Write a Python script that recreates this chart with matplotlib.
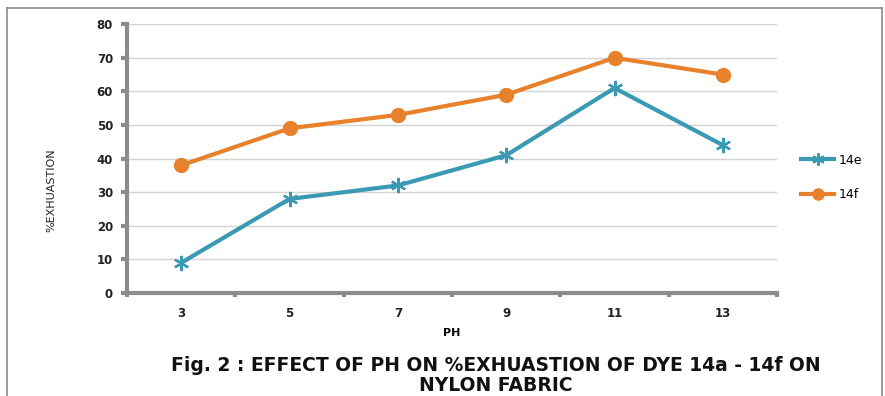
import numpy as np
import matplotlib.pyplot as plt
from matplotlib.lines import Line2D

plt.rcParams['font.family'] = ['DejaVu Sans']

ph_labels = ['3', '5', '7', '9', '11', '13']
dye_14e = [9, 28, 32, 41, 61, 44]
dye_14f = [38, 49, 53, 59, 70, 65]
y_ticks = [0, 10, 20, 30, 40, 50, 60, 70, 80]

blue = '#3A9AB3'
orange = '#E8812C'
axis_grey = '#8C8C8C'

fig = plt.figure(figsize=(8.85, 3.96), dpi=100)
ax = fig.add_axes([0.1435, 0.26, 0.7345, 0.679])

x = np.arange(len(ph_labels))
ax.plot(x, dye_14e, color=blue, lw=3, marker=(6, 2, 0), ms=11, mew=1.6,
        mec=blue, label='14e', zorder=3)
ax.plot(x, dye_14f, color=orange, lw=3, marker='o', ms=10, mec=orange,
        label='14f', zorder=3)

ax.set_xlim(-0.5, len(ph_labels) - 0.5)
ax.set_ylim(0, 80)
ax.set_yticks(y_ticks)
ax.set_xticks(x)
ax.set_xticklabels(ph_labels)
ax.set_xticks(np.arange(-0.5, len(ph_labels), 1), minor=True)
ax.yaxis.grid(True, color='#D4D4D4', lw=1)
ax.set_axisbelow(True)

for s in ['top', 'right']:
    ax.spines[s].set_visible(False)
for s in ['left', 'bottom']:
    ax.spines[s].set_color(axis_grey)
    ax.spines[s].set_linewidth(3)
ax.tick_params(axis='y', length=4, width=3, color=axis_grey, pad=6,
               labelsize=8.5)
ax.tick_params(axis='x', which='major', length=0, pad=10, labelsize=8.5)
ax.tick_params(axis='x', which='minor', length=3, width=3, color=axis_grey)
for lab in ax.get_xticklabels() + ax.get_yticklabels():
    lab.set_fontweight('bold')
    lab.set_color('#222222')

ax.set_xlabel('PH', fontsize=8, fontweight='bold', labelpad=6)
fig.text(0.058, 0.52, '%EXHUASTION', rotation=90, ha='center', va='center',
         fontsize=8, family=['Liberation Sans Narrow', 'DejaVu Sans'],
         color='#222222')

ax.legend(loc='center left', bbox_to_anchor=(1.02, 0.43), frameon=False,
          fontsize=9, handlelength=2.6, labelspacing=1.7, handletextpad=0.4,
          markerscale=0.8)

fig.text(0.5605, 0.052, 'Fig. 2 : EFFECT OF PH ON %EXHUASTION OF DYE 14a - 14f ON\nNYLON FABRIC',
         ha='center', va='center', fontsize=13.5, fontweight='bold',
         linespacing=1.05, color='#111111')

# outer frame (bottom edge is cut off in the source)
fx0, fx1, fy1 = 7 / 885, 882 / 885, 1 - 8 / 396
for xs, ys in [([fx0, fx0], [0, fy1]), ([fx0, fx1], [fy1, fy1]), ([fx1, fx1], [fy1, 0])]:
    fig.add_artist(Line2D(xs, ys, color='#8A8A8A', lw=1.2, transform=fig.transFigure))

fig.savefig('out.png', dpi=100)
